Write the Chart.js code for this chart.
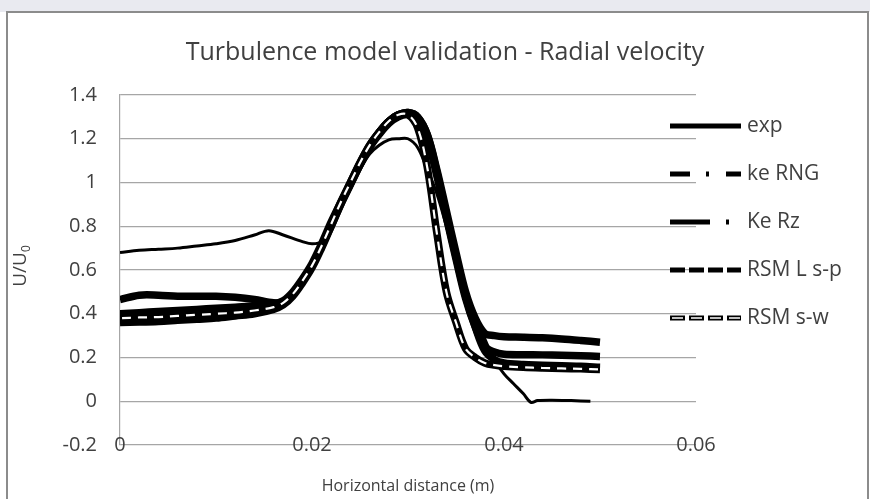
<!DOCTYPE html>
<html><head><meta charset="utf-8">
<script src="https://cdn.jsdelivr.net/npm/chart.js@4.4.1/dist/chart.umd.min.js"></script>
<style>html,body{margin:0;padding:0;background:#fff;overflow:hidden}#wrap{width:870px;height:499px;position:relative}</style>
</head><body><div id="wrap"><canvas id="c" width="870" height="499"></canvas></div>
<script>
const chartTitle = 'Turbulence model validation - Radial velocity';
const xAxisTitle = 'Horizontal distance (m)';
const yAxisTitle = 'U/U';
const yAxisSub = '0';
const seriesNames = ['exp', 'ke RNG', 'Ke Rz', 'RSM L s-p', 'RSM s-w'];
const xTicks = [0, 0.02, 0.04, 0.06];
const yTicks = [-0.2, 0, 0.2, 0.4, 0.6, 0.8, 1, 1.2, 1.4];

const expX = [0, 0.002, 0.004, 0.006, 0.008, 0.010, 0.012, 0.014, 0.0155, 0.017, 0.019, 0.020, 0.021, 0.022, 0.023, 0.024, 0.025, 0.026, 0.027, 0.028, 0.029, 0.030, 0.031, 0.032, 0.033, 0.034, 0.035, 0.036, 0.037, 0.038, 0.039, 0.040, 0.041, 0.042, 0.0428, 0.0435, 0.045, 0.047, 0.049];
const expY = [0.68, 0.69, 0.695, 0.70, 0.71, 0.72, 0.735, 0.76, 0.78, 0.76, 0.73, 0.72, 0.73, 0.81, 0.90, 0.98, 1.06, 1.13, 1.17, 1.195, 1.20, 1.20, 1.16, 1.06, 0.95, 0.80, 0.64, 0.50, 0.40, 0.285, 0.19, 0.125, 0.08, 0.035, -0.005, 0.003, 0.005, 0.003, 0.0];

const modelX = [0, 0.002, 0.004, 0.006, 0.008, 0.010, 0.012, 0.014, 0.016, 0.017, 0.018, 0.019, 0.020, 0.021, 0.022, 0.023, 0.024, 0.025, 0.026, 0.027, 0.028, 0.029, 0.030, 0.031, 0.032, 0.033, 0.034, 0.035, 0.036, 0.037, 0.038, 0.039, 0.040, 0.042, 0.044, 0.046, 0.048, 0.050];
const keRNG = [0.40, 0.405, 0.41, 0.415, 0.42, 0.425, 0.43, 0.435, 0.445, 0.46, 0.50, 0.56, 0.63, 0.72, 0.82, 0.91, 1.00, 1.09, 1.17, 1.23, 1.28, 1.31, 1.32, 1.30, 1.22, 1.06, 0.87, 0.68, 0.50, 0.38, 0.31, 0.30, 0.295, 0.293, 0.29, 0.285, 0.278, 0.27];
const keRz = [0.465, 0.485, 0.485, 0.48, 0.48, 0.48, 0.475, 0.465, 0.45, 0.455, 0.49, 0.55, 0.62, 0.71, 0.80, 0.90, 0.99, 1.08, 1.16, 1.22, 1.27, 1.30, 1.31, 1.29, 1.20, 1.03, 0.84, 0.65, 0.47, 0.34, 0.25, 0.225, 0.215, 0.213, 0.212, 0.21, 0.208, 0.205];
const rsmLsp = [0.36, 0.362, 0.365, 0.37, 0.375, 0.38, 0.39, 0.40, 0.42, 0.44, 0.48, 0.54, 0.61, 0.70, 0.80, 0.90, 0.99, 1.08, 1.16, 1.23, 1.28, 1.31, 1.32, 1.30, 1.22, 1.05, 0.85, 0.66, 0.48, 0.34, 0.23, 0.19, 0.175, 0.168, 0.165, 0.162, 0.16, 0.155];
const rsmSw = [0.38, 0.383, 0.385, 0.39, 0.395, 0.40, 0.405, 0.415, 0.43, 0.45, 0.49, 0.55, 0.62, 0.71, 0.81, 0.91, 1.00, 1.09, 1.17, 1.23, 1.28, 1.31, 1.31, 1.25, 1.07, 0.77, 0.50, 0.36, 0.24, 0.20, 0.175, 0.165, 0.16, 0.155, 0.152, 0.15, 0.148, 0.145];

const legendDash = [[], [20, 16, 3, 17], [40, 16, 3, 16], [15, 4], [15, 4]];

const pts = (xs, ys) => xs.map((x, i) => ({x: x, y: ys[i]}));
const TXT = '#404040';
const FONT = '"Open Sans", sans-serif';
const GRID = '#a6a6a6';

function mk(label, data, w, order, extra) {
  return Object.assign({label: label, data: data, borderColor: '#000', borderWidth: w, pointRadius: 0,
    fill: false, tension: 0.35, borderCapStyle: 'butt', borderJoinStyle: 'round', order: order}, extra || {});
}

const datasets = [
  mk(seriesNames[0], pts(expX, expY), 3, 1),
  mk(seriesNames[1], pts(modelX, keRNG), 7.5, 3),
  mk(seriesNames[2], pts(modelX, keRz), 7.5, 4),
  mk(seriesNames[3], pts(modelX, rsmLsp), 7.5, 5),
  mk(seriesNames[4], pts(modelX, rsmSw), 7.5, 2),
  mk('_swInner', pts(modelX, rsmSw), 2.2, 0, {borderColor: '#fff', borderDash: [9, 7], borderDashOffset: 14})
];

const decor = {
  id: 'decor',
  beforeDraw(chart) {
    const c = chart.ctx;
    c.save();
    c.fillStyle = '#e9eaf0';
    c.fillRect(0, 0, 870, 12);
    c.restore();
  },
  afterDraw(chart) {
    const c = chart.ctx;
    const xs = chart.scales.x, ysc = chart.scales.y;
    c.save();
    c.strokeStyle = '#8c8c8c'; c.lineWidth = 2;
    c.strokeRect(7, 12, 861, 500);
    c.fillStyle = TXT;
    c.font = '20px ' + FONT; c.textAlign = 'center'; c.textBaseline = 'middle';
    const yBottom = ysc.getPixelForValue(yTicks[0]);
    xTicks.forEach(v => c.fillText(String(v), xs.getPixelForValue(v), yBottom));
    c.font = '25px ' + FONT;
    c.fillText(chartTitle, 445, 53);
    c.font = '16px ' + FONT;
    c.fillText(xAxisTitle, 408, 486);
    c.save();
    c.translate(21, 266); c.rotate(-Math.PI / 2);
    c.font = '19px ' + FONT; c.textAlign = 'left';
    const w1 = c.measureText(yAxisTitle).width;
    c.font = '12px ' + FONT;
    const w2 = c.measureText(yAxisSub).width;
    const x0 = -(w1 + w2) / 2;
    c.font = '19px ' + FONT;
    c.fillText(yAxisTitle, x0, 0);
    c.font = '12px ' + FONT;
    c.fillText(yAxisSub, x0 + w1, 6);
    c.restore();
    const ly = [126, 174, 222, 270, 318];
    c.textAlign = 'left'; c.font = '21px ' + FONT;
    for (let i = 0; i < 5; i++) {
      const y = ly[i];
      c.strokeStyle = '#000'; c.lineCap = 'butt';
      c.lineWidth = 5; c.setLineDash(legendDash[i]);
      c.beginPath(); c.moveTo(670, y); c.lineTo(741, y); c.stroke();
      if (i === 4) {
        c.strokeStyle = '#fff'; c.lineWidth = 1.6; c.setLineDash([11, 8]); c.lineDashOffset = -2;
        c.beginPath(); c.moveTo(670, y); c.lineTo(741, y); c.stroke();
        c.lineDashOffset = 0;
      }
      c.setLineDash([]);
      c.fillStyle = TXT;
      c.fillText(seriesNames[i], 747, y);
    }
    c.restore();
  }
};

new Chart(document.getElementById('c'), {
  type: 'line',
  data: {datasets: datasets},
  options: {
    responsive: false, animation: false, devicePixelRatio: 1,
    layout: {padding: {left: 0, right: 174, top: 95, bottom: 0}},
    plugins: {legend: {display: false}, title: {display: false}, tooltip: {enabled: false}},
    scales: {
      x: {
        type: 'linear', min: 0, max: 0.06,
        afterBuildTicks: s => { s.ticks = xTicks.map(v => ({value: v})); },
        afterFit: s => { s.height = 54; },
        grid: {display: false, drawTicks: false, tickLength: 0},
        border: {display: false},
        ticks: {display: false}
      },
      y: {
        type: 'linear', min: -0.2, max: 1.4,
        afterBuildTicks: s => { s.ticks = yTicks.map(v => ({value: v})); },
        afterFit: s => { s.width = 120; },
        grid: {color: GRID, lineWidth: 1.2, drawTicks: false, tickLength: 0},
        border: {display: true, color: GRID, width: 1.2},
        ticks: {color: TXT, font: {family: FONT, size: 20}, padding: 23,
          callback: v => String(Math.round(v * 10) / 10)}
      }
    }
  },
  plugins: [decor]
});
</script></body></html>
